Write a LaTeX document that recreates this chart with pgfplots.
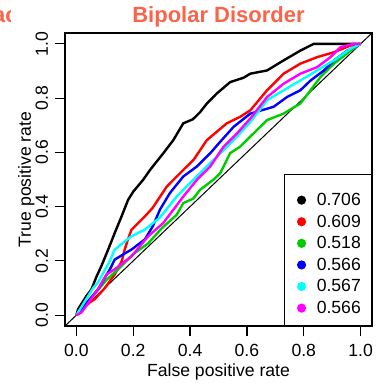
\documentclass[border=0pt]{standalone}
\usepackage{pgfplots}
\pgfplotsset{compat=1.18}
\usepackage{fontspec}
\setmainfont{Liberation Sans}
\definecolor{titlecol}{RGB}{250,100,75}
\definecolor{rblack}{RGB}{0,0,0}
\definecolor{rred}{RGB}{255,0,0}
\definecolor{rgreen}{RGB}{0,205,0}
\definecolor{rblue}{RGB}{0,0,255}
\definecolor{rcyan}{RGB}{0,255,255}
\definecolor{rmagenta}{RGB}{255,0,255}
\newcommand{\lblfont}{\fontsize{17.6}{20}\selectfont}
\begin{document}
\begin{tikzpicture}
\useasboundingbox (-65pt,-59pt) rectangle (314pt,326pt);
\begin{axis}[
  at={(0pt,0pt)}, anchor=south west,
  scale only axis, width=307pt, height=293pt,
  xmin=-0.04, xmax=1.04, ymin=-0.04, ymax=1.04,
  axis line style={line width=1.5pt},
  clip=true,
  xtick={0,0.2,0.4,0.6,0.8,1}, xticklabels={0.0,0.2,0.4,0.6,0.8,1.0},
  ytick={0,0.2,0.4,0.6,0.8,1}, yticklabels={0.0,0.2,0.4,0.6,0.8,1.0},
  xtick pos=bottom, ytick pos=left,
  tick align=outside, major tick length=10pt,
  tick style={line width=1.2pt, black},
  ticklabel style={font=\lblfont, inner sep=0pt},
  xticklabel style={anchor=base, yshift=-20.7pt},
  yticklabel style={xshift=-7pt, rotate=90, anchor=base},
  legend style={at={(rel axis cs:1,0)}, anchor=south east, draw=none, fill=none,
    inner xsep=9pt, inner ysep=8.8pt, row sep=3.8pt, column sep=8.7pt,
    font=\lblfont, cells={anchor=west}},
  legend image code/.code={\fill[#1] (0pt,0pt) circle (3.3pt);},
  every axis plot/.append style={line width=2.4pt},
]
\addplot[black, line width=1pt, forget plot] coordinates {(-0.04,-0.04) (1.04,1.04)};
\addplot[rblack] coordinates {(0,0) (0.006,0.022) (0.035,0.07) (0.053,0.095) (0.07,0.14) (0.088,0.181) (0.112,0.242) (0.135,0.303) (0.159,0.364) (0.182,0.425) (0.2,0.455) (0.235,0.499) (0.259,0.535) (0.306,0.597) (0.341,0.645) (0.376,0.707) (0.41,0.722) (0.435,0.748) (0.459,0.78) (0.494,0.817) (0.541,0.859) (0.588,0.875) (0.612,0.89) (0.671,0.902) (0.729,0.939) (0.788,0.975) (0.835,1.0) (1,1)};
\addlegendentry{0.706}
\addplot[rred] coordinates {(0,0) (0.047,0.047) (0.065,0.059) (0.1,0.1) (0.135,0.15) (0.16,0.2) (0.17,0.242) (0.185,0.29) (0.194,0.315) (0.241,0.364) (0.268,0.395) (0.318,0.474) (0.376,0.535) (0.412,0.572) (0.459,0.645) (0.529,0.707) (0.576,0.731) (0.612,0.755) (0.671,0.829) (0.729,0.89) (0.788,0.927) (0.847,0.951) (0.906,0.969) (0.965,0.994) (1,1)};
\addlegendentry{0.609}
\addplot[rgreen] coordinates {(0,0) (0.059,0.071) (0.106,0.13) (0.153,0.175) (0.2,0.225) (0.253,0.265) (0.3,0.32) (0.353,0.37) (0.376,0.413) (0.412,0.43) (0.435,0.462) (0.482,0.499) (0.506,0.523) (0.541,0.597) (0.576,0.621) (0.635,0.682) (0.671,0.719) (0.729,0.743) (0.788,0.78) (0.824,0.829) (0.859,0.878) (0.906,0.927) (0.965,0.975) (1,1)};
\addlegendentry{0.518}
\addplot[rblue] coordinates {(0,0) (0.04,0.05) (0.076,0.095) (0.118,0.169) (0.135,0.205) (0.194,0.242) (0.241,0.279) (0.27,0.33) (0.294,0.389) (0.329,0.45) (0.376,0.511) (0.424,0.548) (0.471,0.597) (0.506,0.639) (0.553,0.694) (0.612,0.743) (0.694,0.768) (0.741,0.804) (0.788,0.829) (0.824,0.865) (0.871,0.902) (0.906,0.939) (0.953,0.975) (1,1)};
\addlegendentry{0.566}
\addplot[rcyan] coordinates {(0,0) (0.059,0.1) (0.076,0.12) (0.118,0.2) (0.135,0.242) (0.194,0.291) (0.241,0.315) (0.294,0.36) (0.353,0.437) (0.4,0.487) (0.459,0.548) (0.494,0.584) (0.553,0.645) (0.612,0.712) (0.671,0.792) (0.729,0.829) (0.788,0.865) (0.847,0.902) (0.906,0.939) (0.965,0.982) (1,1)};
\addlegendentry{0.567}
\addplot[rmagenta] coordinates {(0,0) (0.018,0.01) (0.076,0.095) (0.106,0.15) (0.135,0.169) (0.194,0.217) (0.253,0.291) (0.306,0.34) (0.376,0.437) (0.424,0.499) (0.471,0.548) (0.518,0.621) (0.565,0.67) (0.612,0.725) (0.671,0.804) (0.729,0.853) (0.788,0.89) (0.847,0.914) (0.894,0.951) (0.929,0.988) (0.976,1.0) (1,1)};
\addlegendentry{0.566}
\end{axis}
\draw[line width=1.2pt] (219.7pt,0pt) rectangle (307pt,151.3pt);
\node[anchor=base, inner sep=0pt, font=\lblfont] at (153.5pt,-50.7pt) {False positive rate};
\node[anchor=base, inner sep=0pt, rotate=90, font=\lblfont] at (-34pt,146.5pt) {True positive rate};
\node[anchor=base, inner sep=0pt, text=titlecol, font=\bfseries\fontsize{22}{26}\selectfont] at (153.5pt,303.3pt) {Bipolar Disorder};
\begin{scope}
\clip (-65pt,290pt) rectangle (-54pt,326pt);
\node[anchor=base west, inner sep=0pt, text=titlecol, font=\bfseries\fontsize{22}{26}\selectfont] at (-72pt,303.3pt) {ac};
\end{scope}
\end{tikzpicture}
\end{document}
